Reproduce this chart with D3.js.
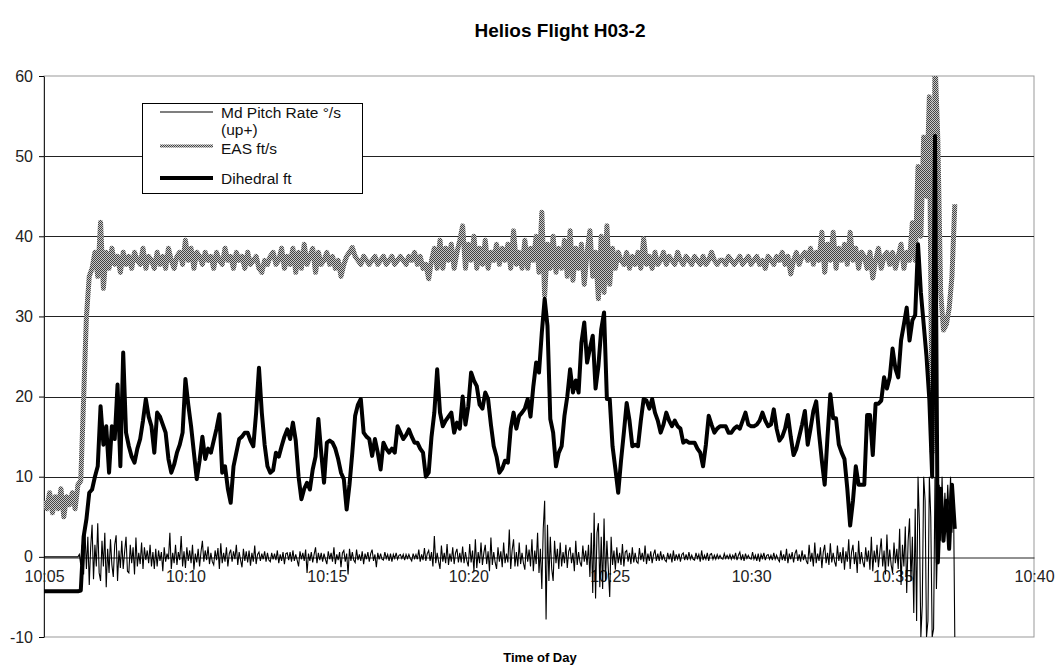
<!DOCTYPE html>
<html>
<head>
<meta charset="utf-8">
<script src="https://cdn.jsdelivr.net/npm/d3@7"></script>
<style>
  body { margin: 0; background: #fff; }
  svg { font-family: "Liberation Sans", Arial, sans-serif; }
  .axis text { font-size: 16px; fill: #222; }
</style>
</head>
<body>
<div id="chart"></div>
<script>
// Tick labels (minutes after 10:05)
const tickMinutes = [0, 5, 10, 15, 20, 25, 30, 35];
const tickLabels = ["10:05", "10:10", "10:15", "10:20", "10:25", "10:30", "10:35", "10:40"];
const yTicks = [-10, 0, 10, 20, 30, 40, 50, 60];

// sample spacing in minutes from 10:05
const pitchStep = 0.05;
const sampleStep = 0.1;

// Md Pitch Rate deg/s (up+), one row per minute
const pitchRate = [
  0, 0, 0, 0, 0, 0, 0, 0, 0, 0, 0, 0, 0, 0, 0, 0, 0, 0, 0, 0,
  0, 0, 0, 0, 0, 0.3, -1, 1.5, -2.2, 3, -1.5, 2.5, -3.5, 1.2, 4, -2.8, 1.5, -1.2, 4.2, -2,
  -3, 2, -1.2, 3, -3.8, 1, -2, 2.2, -1, -2.5, 1.5, 2.7, -3, 0.8, -1.4, 2, -1.5, 0.6, 2.5, -1.8,
  -2, 1.5, -0.8, 1.2, -2.2, 2.4, -1.2, 0.5, -0.9, 1.8, -1.5, 1.2, -0.4, 0.8, -0.8, 1.5, -1.2, 0.6, -1.5, 1,
  -1.2, 0.8, -0.5, 0.6, -1.8, 1.2, -0.6, 0.4, -0.3, 3, -1.5, 0.5, -0.8, 1.5, -1, 0.6, -0.4, 2.6, -1.2, 0.7,
  -1.4, 1.2, -0.5, 0.8, -0.8, 1.5, -1.6, 0.4, -0.7, 1, -1.2, 0.6, 2, -0.6, 0.8, -0.4, 1.3, -0.9, 0.5, -0.6,
  -1, 0.8, -0.4, 1.1, -1.5, 1.7, -0.8, 0.5, -0.6, 1.2, -1.2, 0.4, 0.9, -0.6, 0.7, -0.3, 1.5, -1, 0.6, -0.4,
  -1.3, 1, -0.5, 0.7, -0.7, 0.8, -1.1, 0.5, -0.6, 1.4, -0.9, 0.3, 0.6, -0.5, 0.4, -0.3, 0.7, -0.6, 0.5, -0.4,
  -0.6, 0.5, -0.3, 0.4, -0.4, 0.8, -0.8, 0.3, -0.5, 0.6, -0.9, 0.4, 0.5, -0.4, 0.6, -0.6, 0.8, -0.5, 0.3, -0.4,
  -1.2, 0.7, -0.3, 0.5, -0.5, 0.9, -2, 0.4, -0.5, 0.6, -0.7, 0.3, 1.2, -0.8, 0.5, -0.4, 0.5, -0.6, 0.4, -0.3,
  -0.9, 0.7, -0.3, 0.5, -0.6, 1.2, -0.9, 0.3, -0.4, 0.6, -1.3, 0.5, 0.8, -0.6, 0.4, -2.2, 1, -0.5, 0.6, -0.4,
  -0.7, 0.9, -0.4, 0.3, -0.5, 0.7, -0.9, 0.4, -0.3, 0.6, -0.6, 0.4, 0.9, -0.5, 0.3, -1.3, 0.5, -0.3, 0.4, -0.3,
  -0.4, 0.6, -0.2, 0.3, -0.5, 0.4, -0.6, 0.3, -0.2, 0.5, -0.3, 0.2, 0.3, -0.2, 0.3, -0.4, 0.3, -0.2, 0.3, -0.2,
  -0.5, 0.4, -0.2, 0.3, -0.3, 0.9, -0.6, 0.3, -0.4, 1.1, -0.5, 0.4, 0.8, -0.5, 0.6, -1.2, 2.6, -0.8, 0.5, -0.6,
  -1.5, 1.4, -0.6, 0.5, -0.8, 1.6, -1, 0.4, -0.6, 1.2, -0.9, 0.5, 1, -0.7, 0.5, -0.7, 1.3, -0.8, 0.6, -0.5,
  -1.2, 1.6, -0.7, 0.8, -1.8, 2.2, -1.4, 0.6, -0.8, 1.8, -1, 0.5, 1.5, -0.9, 0.7, -1.8, 2.4, -1, 0.6, -0.7,
  -1.5, 1.2, -0.6, 0.7, -1.3, 1.8, -0.8, 0.4, -0.7, 3.4, -1.5, 0.8, 2.2, -1.2, 0.6, -1.2, 1.8, -0.9, 0.5, -0.8,
  -1.6, 1.5, -0.6, 0.9, -1.2, 2.2, -1.8, 0.8, -0.9, 3, -2, 1, -4, 3.5, 7, -7.8, 4, -3, 2.5, -1.5,
  -3, 2, -0.8, 1, -1.5, 1.8, -1.2, 0.6, -0.8, 1.5, -1.4, 0.7, 1.2, -0.8, 0.5, -1.8, 2, -1, 0.6, -0.7,
  -1.2, 1.4, -0.6, 0.8, -1, 1.5, -2.5, 3, -4.5, 5.5, -5.2, 3, 4.2, -3.8, 2.5, -4, 4.8, -3, 2, -1.5,
  -5, 2.5, -1, 0.8, -1.6, 1.2, -0.8, 0.5, -1, 1.6, -1.2, 0.6, 0.8, -0.6, 0.5, -0.9, 1.2, -0.7, 0.5, -0.6,
  -0.8, 1.1, -0.4, 0.5, -0.6, 1.4, -0.9, 0.4, -0.5, 0.7, -0.8, 0.3, 0.9, -0.5, 0.4, -0.5, 0.7, -0.4, 0.3, -0.4,
  -0.6, 0.5, -0.3, 0.4, -0.7, 0.8, -0.5, 0.3, -0.3, 0.4, -0.6, 0.3, 0.5, -0.4, 0.3, -0.4, 0.6, -0.3, 0.2, -0.3,
  -0.4, 0.5, -0.2, 0.3, -0.6, 0.8, -0.4, 0.2, -0.3, 0.5, -0.5, 0.3, 0.4, -0.3, 0.2, -0.3, 0.3, -0.2, 0.2, -0.2,
  -0.3, 0.4, -0.2, 0.2, -0.2, 0.3, -0.3, 0.2, -0.2, 0.5, -0.4, 0.2, 0.6, -0.4, 0.3, -0.5, 0.4, -0.2, 0.2, -0.2,
  -0.3, 0.6, -0.3, 0.2, -0.5, 0.4, -0.6, 0.3, -0.2, 0.5, -0.4, 0.2, 0.3, -0.3, 0.2, -0.4, 0.5, -0.3, 0.2, -0.3,
  -0.6, 0.8, -0.4, 0.3, -0.5, 1, -0.8, 0.4, -0.3, 0.6, -0.7, 0.4, 0.9, -0.5, 0.3, -0.6, 0.8, -0.4, 0.3, -0.5,
  -0.9, 1.5, -0.6, 0.5, -1.2, 1.8, -0.8, 0.4, -0.5, 1.2, -1.4, 0.6, 1.5, -0.8, 0.5, -1, 1.7, -0.7, 0.5, -0.6,
  -1.2, 1.4, -0.5, 0.6, -0.8, 1.2, -1.6, 0.7, -0.6, 2.2, -1.5, 0.6, 1.5, -0.9, 0.6, -2, 2, -0.9, 0.6, -0.7,
  -1.3, 1.2, -0.6, 0.8, -1.6, 2.5, -1.8, 0.8, -0.7, 1.5, -1.3, 0.6, 2.3, -1.2, 0.8, -2.2, 2.8, -1.2, 0.9, -1,
  -2, 1.8, -0.8, 1, -1.5, 3.5, -3.5, 1.5, -1.2, 3.8, -4.5, 2, 4.8, -3, 2.5, -7, 6, -8, 10, 4,
  -10, -6, 10, 7, -10, -8, 10, 5, -10, -9, 10, -4, 3, 9, 2, 10, 3, 8, 4, 9,
  5, 10, 3, 9, -10
];

// EAS ft/s
const eas = [
  7, 6, 8, 5.5, 7.5, 6, 8.5, 5, 7.5, 6.5,
  8, 6, 9, 9.5, 19.7, 30, 35, 36, 38, 35,
  41.75, 33.5, 38, 36, 38.5, 36.5, 37.5, 35.5, 38, 36.5,
  37.5, 36, 38, 37, 36.5, 38.5, 36, 37.5, 37, 36,
  38, 36.5, 37.5, 36, 38.5, 37, 36, 37.5, 38, 36.5,
  39.5, 37, 38.5, 36, 38, 37.5, 36.5, 38, 37, 37.5,
  36, 38, 37, 36.5, 38.5, 37, 37.5, 36, 38, 37,
  37.5, 36, 38, 36.5, 37, 37.5, 36, 35.5, 37, 36.5,
  37.5, 38, 36.5, 37, 38.5, 36, 37.5, 36.5, 38.5, 35.5,
  38, 36, 39, 36.5, 37.5, 38.5, 35.5, 38, 36.5, 37,
  38, 36.5, 37.5, 36, 37, 35, 36.5, 37.5, 38, 38.6,
  37.5, 37, 36.5, 37.5, 37, 36.5, 37, 37.5, 36.5, 37,
  37.5, 36.5, 37, 37.5, 36.5, 37, 37.5, 37, 36.5, 37.5,
  37, 38, 36.5, 37.5, 36, 36.5, 34.7, 37, 38.5, 36,
  39.5, 36, 38.5, 37, 39, 36, 38, 39.5, 41.3, 36,
  39, 37, 40, 36, 38.5, 36.5, 39.5, 36, 38, 37,
  39, 36.5, 38.5, 37, 39, 36, 40.7, 36.5, 38, 36,
  39.5, 36, 38.5, 37, 40, 35.5, 43, 32.6, 39, 36,
  40, 35.5, 38.5, 36, 39.5, 35, 40.7, 34.5, 38.5, 36,
  39, 34, 38, 40.7, 35, 38, 32.2, 40, 33, 41.3,
  34, 38.5, 36, 38, 37, 36.5, 38, 36, 37.5, 36.5,
  38, 36, 39.7, 36.5, 37.5, 36, 38, 36.5, 37, 38,
  36.5, 37.5, 37, 36.5, 38, 37, 36.5, 37.5, 37, 36.5,
  37.5, 37, 36.5, 37.5, 36.5, 37, 38, 37, 36.5, 37,
  37, 36.5, 37.5, 37, 36.5, 37, 37.5, 36.5, 37, 37.5,
  36.5, 37, 37.5, 36.5, 37, 36, 37.5, 37, 36.5, 37.5,
  37, 38, 36.5, 37.5, 35.3, 37, 38, 36.5, 37.5, 38,
  37, 38.5, 36.5, 38, 37, 40.5, 35.5, 39, 37, 40.5,
  36, 38.5, 37, 39, 36.5, 40.5, 37, 38.5, 36, 38,
  37.5, 36, 38, 34.8, 37, 38.5, 36, 37.5, 38, 36.5,
  38, 36, 37.5, 39, 36, 38, 37, 41.7, 37, 48.7,
  40, 52.4, 45, 57.4, 13, 62, 52, 33, 28.3, 29,
  31, 35, 44
];

// Dihedral ft
const dihedral = [
  -4.3, -4.3, -4.3, -4.3, -4.3, -4.3, -4.3, -4.3, -4.3, -4.3,
  -4.3, -4.3, -4.3, -4.2, 2.5, 4.7, 8, 8.4, 10, 11.3,
  18.8, 14, 16.3, 10.5, 16.3, 14.7, 21.5, 11.3, 25.5, 15.5,
  13.8, 12.5, 11.75, 13.5, 14.7, 17, 19.7, 17.5, 16.3, 13,
  18, 17.5, 16.5, 15.5, 12.2, 10.5, 11.5, 13, 14, 15.5,
  22.2, 19, 16.3, 13, 9.7, 12, 15, 12.2, 13.5, 13,
  14.5, 16, 17.8, 10.5, 11.3, 8.5, 6.75, 11.3, 13, 14.7,
  15, 15.5, 15.5, 14.5, 13.8, 18, 23.6, 18, 14, 11.3,
  10.5, 10.8, 13, 12.5, 13.8, 15, 15.9, 14.7, 16.75, 14.5,
  10, 7.2, 8.5, 9.25, 8.4, 10.9, 12.5, 17.2, 13, 9.25,
  14.25, 14.5, 14.25, 13.5, 12.2, 10.5, 9.7, 5.9, 9, 13,
  17.6, 19, 19.7, 15.5, 15, 14.7, 12.6, 14.7, 13, 10.9,
  14.25, 13.5, 13, 13.5, 13, 16.3, 15.5, 14.7, 15.2, 15.9,
  15, 14.25, 14.25, 13.5, 13, 10, 10.5, 15, 18, 23.4,
  18, 16.3, 17, 17.5, 18, 15.5, 16.75, 16, 20, 16.5,
  18.8, 23, 22, 21.3, 19, 18.5, 20.5, 19.7, 16.5, 13.8,
  12.5, 10.5, 11, 12, 11.75, 16, 18, 16, 17.6, 18,
  18.5, 19.7, 17.5, 21.3, 24.25, 23, 28, 32.2, 28.8, 17.2,
  15.5, 11.3, 13, 13.8, 17.6, 20, 23.4, 20.5, 22, 20.5,
  26.75, 29.25, 24.25, 26, 27.6, 21, 23.8, 28.4, 30.5, 19.7,
  19.7, 13.8, 11, 8, 12, 15.5, 19.2, 17, 13.8, 14,
  13.8, 17, 19.7, 19.5, 18.5, 19.7, 18, 17, 15.5, 16.5,
  18, 17, 16.3, 17, 16.3, 16, 14.25, 14.5, 14.25, 14.25,
  14.25, 13.5, 13, 11.3, 14, 17.6, 16.5, 15.5, 16, 16.3,
  16.3, 16.3, 15.5, 15.5, 16, 16.3, 16, 17, 18, 16.5,
  16.3, 16.3, 16.5, 17, 18, 17, 16.3, 16.5, 18.4, 16,
  14.5, 15, 16, 17.7, 15, 12.7, 13.5, 15, 16.5, 18.2,
  14, 16, 18.2, 19.4, 15.4, 12, 9, 15, 20.3, 17.3,
  17.3, 14, 13, 12.2, 8.5, 3.9, 7, 11.3, 9, 9,
  9, 17.7, 17.7, 12.7, 19.1, 19.1, 19.5, 22.4, 21, 22.4,
  26, 23.5, 22.4, 27, 29, 31.1, 27, 29.5, 30.2, 39,
  33, 29, 25, 19.6, 10, 52.5, -0.7, 8.5, 2, 7,
  1, 9, 3.5
];

// Set dimensions
const W = 1058, H = 668;
const plot = { left: 44, right: 1034, top: 76, bottom: 637 };

const svg = d3.select("#chart")
    .append("svg")
    .attr("width", W)
    .attr("height", H);

// stipple pattern for the EAS line
const defs = svg.append("defs");
const pat = defs.append("pattern")
    .attr("id", "stipple")
    .attr("patternUnits", "userSpaceOnUse")
    .attr("width", 2)
    .attr("height", 2);
pat.append("rect").attr("width", 2).attr("height", 2).attr("fill", "#c8c8c8");
pat.append("rect").attr("x", 0).attr("y", 0).attr("width", 1).attr("height", 1).attr("fill", "#444");
pat.append("rect").attr("x", 1).attr("y", 1).attr("width", 1).attr("height", 1).attr("fill", "#444");

defs.append("clipPath").attr("id", "plotclip")
    .append("rect")
    .attr("x", plot.left)
    .attr("y", plot.top)
    .attr("width", plot.right - plot.left)
    .attr("height", plot.bottom - plot.top);

// Scales
const x = d3.scaleLinear().domain([0, 35]).range([plot.left, plot.right]);
const y = d3.scaleLinear().domain([-10, 60]).range([plot.bottom, plot.top]);

// Plot border (grey)
svg.append("rect")
    .attr("x", plot.left)
    .attr("y", plot.top)
    .attr("width", plot.right - plot.left)
    .attr("height", plot.bottom - plot.top)
    .attr("fill", "none")
    .attr("stroke", "#999");

// Gridlines
svg.append("g")
    .selectAll("line")
    .data(yTicks.filter(v => v > 0 && v < 60))
    .enter()
    .append("line")
    .attr("x1", plot.left)
    .attr("x2", plot.right)
    .attr("y1", d => Math.round(y(d)) + 0.5)
    .attr("y2", d => Math.round(y(d)) + 0.5)
    .attr("stroke", "#222");

// Y axis (plain hyphen for negatives, like the original)
svg.append("g")
    .attr("class", "axis")
    .attr("transform", `translate(${plot.left},0)`)
    .call(d3.axisLeft(y)
        .tickValues(yTicks)
        .tickFormat(d => String(d))
        .tickSize(5).tickPadding(6).tickSizeOuter(0))
    .call(g => g.select(".domain").attr("stroke", "#222"));

// X axis along the zero line
svg.append("g")
    .attr("class", "axis")
    .attr("transform", `translate(0,${Math.round(y(0)) + 0.5})`)
    .call(d3.axisBottom(x)
        .tickValues(tickMinutes)
        .tickFormat((d, i) => tickLabels[i])
        .tickSize(0)
        .tickPadding(13))
    .call(g => g.select(".domain").attr("stroke", "#222"));

// Series
const lineFor = (vals, step) => d3.line()
    .x((d, i) => x(i * step))
    .y(d => y(d))(vals);

const series = svg.append("g").attr("clip-path", "url(#plotclip)");

series.append("path")
    .attr("d", lineFor(pitchRate, pitchStep))
    .attr("fill", "none")
    .attr("stroke", "#000")
    .attr("stroke-width", 1.1);

series.append("path")
    .attr("d", lineFor(eas, sampleStep))
    .attr("fill", "none")
    .attr("stroke", "url(#stipple)")
    .attr("stroke-width", 5)
    .attr("stroke-linejoin", "round");

series.append("path")
    .attr("d", lineFor(dihedral, sampleStep))
    .attr("fill", "none")
    .attr("stroke", "#000")
    .attr("stroke-width", 4)
    .attr("stroke-linejoin", "round");

// Legend
const legend = svg.append("g");
legend.append("rect")
    .attr("x", 142.5).attr("y", 103.5)
    .attr("width", 220).attr("height", 90)
    .attr("fill", "#fff").attr("stroke", "#000");

const legendItems = [
    { y: 112, base: 118, lines: ["Md Pitch Rate °/s", "(up+)"], stroke: "#000", w: 1.1 },
    { y: 146, base: 154, lines: ["EAS ft/s"], stroke: "url(#stipple)", w: 3 },
    { y: 178, base: 184, lines: ["Dihedral ft"], stroke: "#000", w: 4 }
];
legendItems.forEach(it => {
    legend.append("line")
        .attr("x1", 160).attr("x2", 213)
        .attr("y1", it.y).attr("y2", it.y)
        .attr("stroke", it.stroke)
        .attr("stroke-width", it.w);
    it.lines.forEach((t, j) => {
        legend.append("text")
            .attr("x", 221)
            .attr("y", it.base + j * 17)
            .attr("font-size", 15.5)
            .attr("fill", "#111")
            .text(t);
    });
});

// Title
svg.append("text")
    .attr("x", 560)
    .attr("y", 37)
    .attr("text-anchor", "middle")
    .attr("font-size", 19)
    .attr("font-weight", "bold")
    .text("Helios Flight H03-2");

// X-axis label
svg.append("text")
    .attr("x", 540)
    .attr("y", 662)
    .attr("text-anchor", "middle")
    .attr("font-size", 13)
    .attr("font-weight", "bold")
    .text("Time of Day");
</script>
</body>
</html>
